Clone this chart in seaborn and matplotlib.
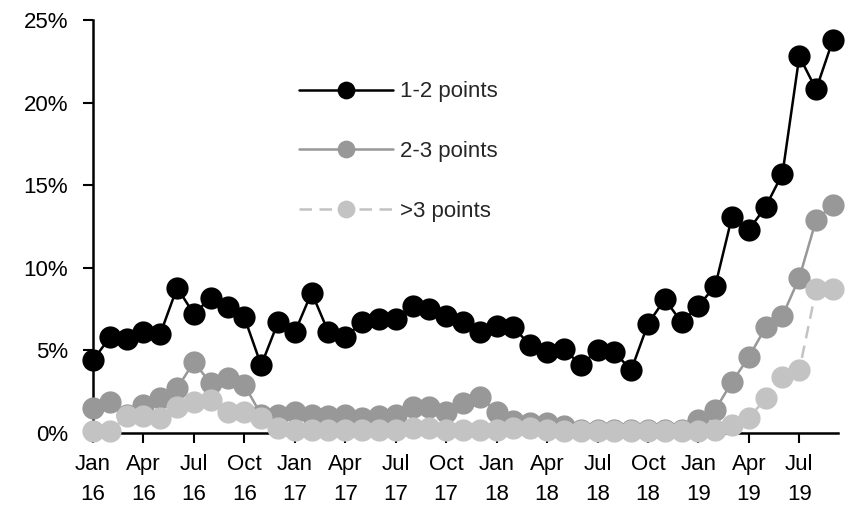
import numpy as np
import pandas as pd
import matplotlib
matplotlib.use("Agg")
import matplotlib.pyplot as plt
import seaborn as sns

# monthly, Jan 2016 .. Sep 2019 (% share)
months = pd.date_range("2016-01-01", "2019-09-01", freq="MS")
pts_1_2 = [4.4, 5.8, 5.7, 6.1, 6.0, 8.8, 7.2, 8.2, 7.6, 7.0, 4.1, 6.7,
           6.1, 8.5, 6.1, 5.8, 6.7, 6.9, 6.9, 7.7, 7.5, 7.1, 6.7, 6.1,
           6.5, 6.4, 5.3, 4.9, 5.1, 4.1, 5.0, 4.9, 3.8, 6.6, 8.1, 6.7,
           7.7, 8.9, 13.1, 12.3, 13.7, 15.7, 22.8, 20.8, 23.8]
pts_2_3 = [1.5, 1.9, 1.1, 1.7, 2.1, 2.7, 4.3, 3.0, 3.3, 2.9, 1.1, 1.1,
           1.3, 1.1, 1.0, 1.1, 0.9, 1.0, 1.1, 1.6, 1.6, 1.3, 1.8, 2.2,
           1.3, 0.7, 0.6, 0.6, 0.4, 0.2, 0.2, 0.2, 0.2, 0.2, 0.2, 0.2,
           0.8, 1.4, 3.1, 4.6, 6.4, 7.1, 9.4, 12.9, 13.8]
pts_3_plus = [0.1, 0.1, 1.0, 1.0, 0.9, 1.6, 1.9, 2.0, 1.3, 1.3, 0.9, 0.3,
              0.2, 0.2, 0.2, 0.2, 0.2, 0.2, 0.2, 0.3, 0.3, 0.2, 0.2, 0.2,
              0.2, 0.3, 0.3, 0.2, 0.1, 0.1, 0.1, 0.1, 0.1, 0.1, 0.1, 0.1,
              0.1, 0.2, 0.5, 0.9, 2.1, 3.4, 3.8, 8.7, 8.7]

tick_pos = list(range(0, 45, 3))
tick_labels = [f"{m.strftime('%b')}\n{m.strftime('%y')}" for m in months[::3]]

sns.set_style("white")
plt.rcParams['font.family'] = ['Liberation Sans', 'DejaVu Sans']

fig = plt.figure(figsize=(8.48, 5.21), dpi=100)
ax = fig.add_axes([0.1097, 0.1689, 0.8785, 0.7927])

x = np.arange(len(months))
series = [
    ("1-2 points", pts_1_2, "#000000", "-", 6),
    ("2-3 points", pts_2_3, "#989898", "-", 4),
    (">3 points", pts_3_plus, "#c3c3c3", (0, (5, 3)), 5),
]
for name, vals, col, ls, z in series:
    sns.lineplot(x=x, y=vals, ax=ax, color=col, linestyle=ls, linewidth=1.8,
                 marker="o", markersize=16, markeredgewidth=0, label=name,
                 clip_on=False, zorder=z)

ax.set_xlim(0, 44.3)
ax.set_ylim(0, 25)
ax.set_yticks([0, 5, 10, 15, 20, 25])
ax.set_yticklabels([f"{v}%" for v in [0, 5, 10, 15, 20, 25]])
ax.set_xticks(tick_pos)
ax.set_xticklabels(tick_labels, linespacing=1.6)
ax.tick_params(axis="both", direction="out", length=7, width=1.5, labelsize=16,
               colors="black", bottom=True, left=True)
ax.tick_params(axis="x", pad=8)
ax.tick_params(axis="y", pad=11)
for s in ["top", "right"]:
    ax.spines[s].set_visible(False)
for s in ["left", "bottom"]:
    ax.spines[s].set_color("black")
    ax.spines[s].set_linewidth(1.8)
ax.set_xlabel("")
ax.set_ylabel("")

leg = ax.legend(loc="upper left", bbox_to_anchor=(0.25, 0.9), frameon=False,
                fontsize=16, handlelength=4.2, handletextpad=0.35,
                labelspacing=1.75, markerscale=0.8)

fig.savefig("out.png", dpi=100)
